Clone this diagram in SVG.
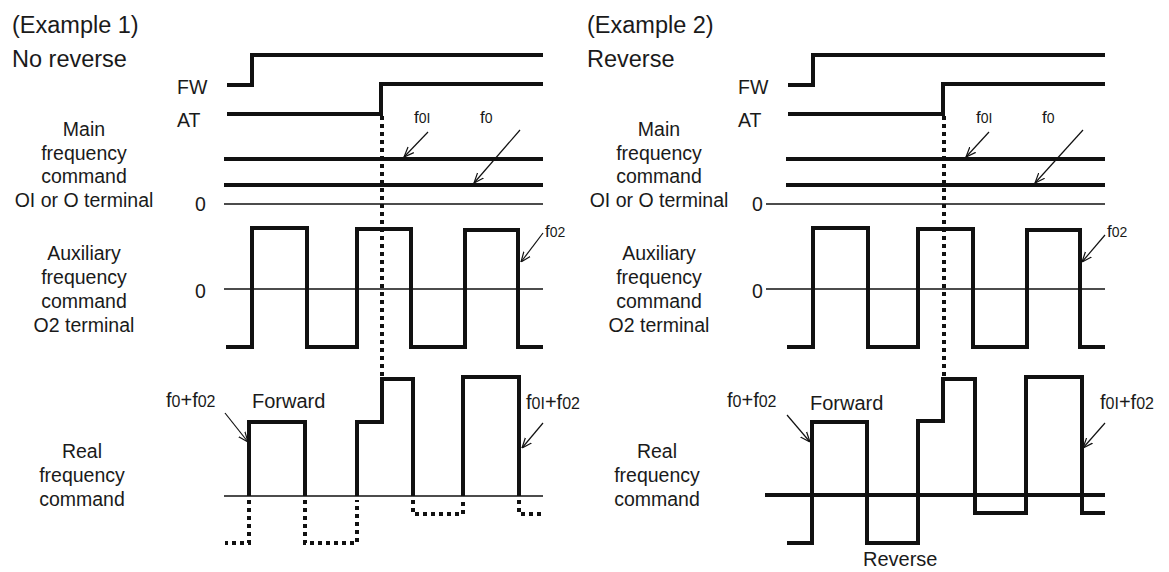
<svg xmlns="http://www.w3.org/2000/svg" width="1169" height="572" viewBox="0 0 1169 572">
<defs>
<style>
text{font-family:"Liberation Sans",Arial,sans-serif;fill:#1a1a1a}
.t{font-size:23.5px}
.l{font-size:19.5px}
.c{text-anchor:middle}
.s{font-size:17px}
.m{font-size:20px}
.thk{fill:none;stroke:#111;stroke-width:4;stroke-linejoin:miter;stroke-linecap:butt}
.thn{fill:none;stroke:#111;stroke-width:1.5}
.dot{fill:none;stroke:#111;stroke-width:4;stroke-dasharray:4 4}
.arr{fill:none;stroke:#111;stroke-width:1.2;marker-end:url(#ah)}
</style>
<marker id="ah" viewBox="0 0 10 10" refX="10" refY="5" markerWidth="10" markerHeight="10" markerUnits="userSpaceOnUse" orient="auto">
<path d="M0,1 L10,5 L0,9" fill="none" stroke="#111" stroke-width="1.2"/>
</marker>
</defs>
<rect width="1169" height="572" fill="#fff"/>

<g id="example1">
<g id="ex1-title">
<text class="t" x="12" y="33">(Example 1)</text>
<text class="t" x="12" y="67">No reverse</text>
</g>
<g id="ex1-fw">
<text class="l" x="177" y="94">FW</text>
<path class="thk" d="M227,85 H252 V55 H543"/>
</g>
<g id="ex1-at">
<text class="l" x="177" y="127">AT</text>
<path class="thk" d="M227,114 H381 V84 H543"/>
</g>
<g id="ex1-main">
<text class="l c" x="84" y="136">Main</text>
<text class="l c" x="84" y="160">frequency</text>
<text class="l c" x="84" y="183">command</text>
<text class="l c" x="84" y="207">OI or O terminal</text>
<text class="l" x="195" y="211">0</text>
<path class="thn" d="M224,204 H543"/>
<path class="thk" d="M224,159 H543 M224,185 H543"/>
<text class="s" x="414" y="123">f<tspan font-size="14">0I</tspan></text>
<text class="s" x="480" y="123">f<tspan font-size="14">0</tspan></text>
</g>
<g id="ex1-aux">
<text class="l c" x="84" y="260">Auxiliary</text>
<text class="l c" x="84" y="284">frequency</text>
<text class="l c" x="84" y="308">command</text>
<text class="l c" x="84" y="332">O2 terminal</text>
<text class="l" x="195" y="298">0</text>
<path class="thn" d="M224,289 H543"/>
<path class="thk" d="M226,347 H252 V228 H307 V347 H357 V229 H411 V347 H465 V230 H518 V347 H543"/>
<text class="s" x="545" y="237">f<tspan font-size="14">02</tspan></text>
</g>
<g id="ex1-real">
<text class="l c" x="82" y="458">Real</text>
<text class="l c" x="82" y="482">frequency</text>
<text class="l c" x="82" y="506">command</text>
<path class="thn" d="M224,496 H543"/>
<path class="thk" d="M249,496 V422 H305 V496 M357,496 V422 H382 V379 H413 V496 M463,496 V377 H519 V496"/>
<path class="dot" d="M249,500 V543 H225 M305,500 V543 H357 V500 M413,500 V514 H463 V500 M519,500 V514 H543"/>
<text class="m" x="166" y="407">f<tspan font-size="16">0</tspan>+f<tspan font-size="16">02</tspan></text>
<text class="m" x="526" y="409">f<tspan font-size="16">0I</tspan>+f<tspan font-size="16">02</tspan></text>
<text class="m" x="252" y="408" font-size="17.5">Forward</text>
</g>
</g>

<g id="example2">
<g id="ex2-title">
<text class="t" x="587" y="33">(Example 2)</text>
<text class="t" x="587" y="67">Reverse</text>
</g>
<g id="ex2-fw">
<text class="l" x="738" y="94">FW</text>
<path class="thk" d="M788,85 H813 V55 H1105"/>
</g>
<g id="ex2-at">
<text class="l" x="738" y="127">AT</text>
<path class="thk" d="M788,114 H943 V84 H1105"/>
</g>
<g id="ex2-main">
<text class="l c" x="659" y="136">Main</text>
<text class="l c" x="659" y="160">frequency</text>
<text class="l c" x="659" y="183">command</text>
<text class="l c" x="659" y="207">OI or O terminal</text>
<text class="l" x="752" y="211">0</text>
<path class="thn" d="M766,204 H1105"/>
<path class="thk" d="M786,159 H1105 M786,185 H1105"/>
<text class="s" x="976" y="123">f<tspan font-size="14">0I</tspan></text>
<text class="s" x="1042" y="123">f<tspan font-size="14">0</tspan></text>
</g>
<g id="ex2-aux">
<text class="l c" x="659" y="260">Auxiliary</text>
<text class="l c" x="659" y="284">frequency</text>
<text class="l c" x="659" y="308">command</text>
<text class="l c" x="659" y="332">O2 terminal</text>
<text class="l" x="752" y="298">0</text>
<path class="thn" d="M766,289 H1105"/>
<path class="thk" d="M787,347 H813 V228 H868 V347 H918 V229 H973 V347 H1027 V230 H1080 V347 H1105"/>
<text class="s" x="1107" y="237">f<tspan font-size="14">02</tspan></text>
</g>
<g id="ex2-real">
<text class="l c" x="657" y="458">Real</text>
<text class="l c" x="657" y="482">frequency</text>
<text class="l c" x="657" y="506">command</text>
<path class="thk" d="M765,495 H1105"/>
<path class="thk" d="M787,543 H812 V422 H867 V543 H918 V421 H943 V379 H975 V513 H1026 V377 H1082 V513 H1105"/>
<text class="m" x="727" y="407">f<tspan font-size="16">0</tspan>+f<tspan font-size="16">02</tspan></text>
<text class="m" x="1100" y="409">f<tspan font-size="16">0I</tspan>+f<tspan font-size="16">02</tspan></text>
<text class="m" x="810" y="410" font-size="17.5">Forward</text>
<text class="m" x="863" y="566" font-size="17.5">Reverse</text>
</g>
</g>

<g id="connectors">
<path class="dot" d="M382,116 V377"/>
<path class="dot" d="M944,116 V377"/>
<path class="arr" d="M428,132 L404,157"/>
<path class="arr" d="M520,130 L474,183"/>
<path class="arr" d="M543,233 L521,262"/>
<path class="arr" d="M225,413 L248,442"/>
<path class="arr" d="M543,423 L522,448"/>
<path class="arr" d="M989,132 L966,157"/>
<path class="arr" d="M1083,130 L1035,183"/>
<path class="arr" d="M1105,235 L1082,262"/>
<path class="arr" d="M787,415 L810,442"/>
<path class="arr" d="M1105,423 L1083,448"/>
</g>
</svg>
